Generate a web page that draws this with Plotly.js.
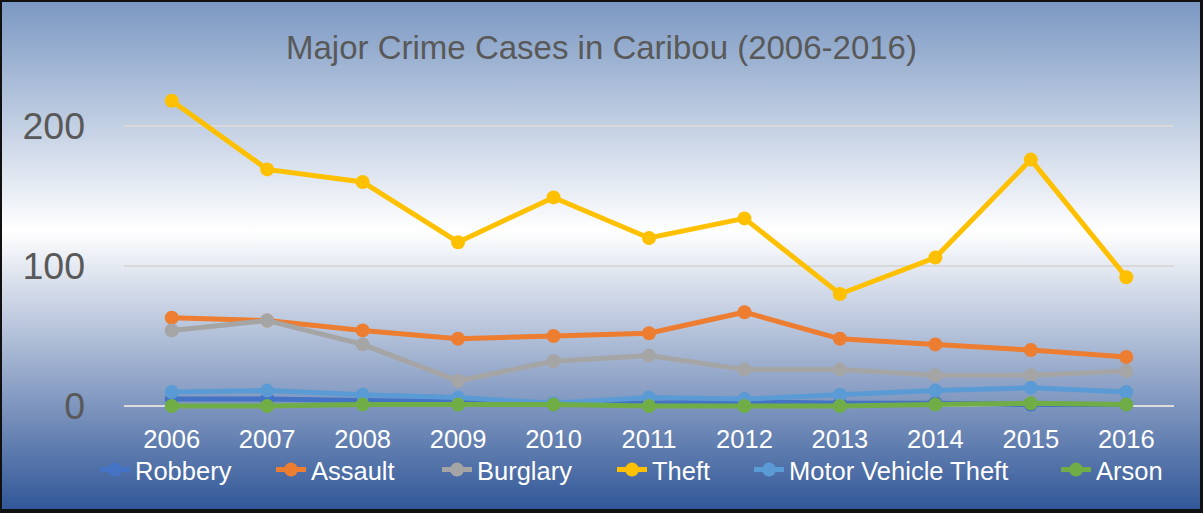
<!DOCTYPE html>
<html>
<head>
<meta charset="utf-8">
<script src="https://cdn.plot.ly/plotly-3.0.1.min.js"></script>
<style>
  html, body { margin: 0; padding: 0; background: #ffffff; }
  #wrap { position: relative; width: 1203px; height: 513px; overflow: hidden;
          background: linear-gradient(to bottom, #7a97c2 0%, #ffffff 45%, #2f5597 100%); }
  #chart { position: absolute; left: 0; top: 0; width: 1203px; height: 513px; }
  #frame { position: absolute; left: 0; top: 0; width: 1203px; height: 513px; box-sizing: border-box;
           border-style: solid; border-color: #111; border-width: 2px 3px 4px 2px; pointer-events: none; }
</style>
</head>
<body>
<div id="wrap"><div id="chart"></div><div id="frame"></div></div>
<script>
const years = ["2006","2007","2008","2009","2010","2011","2012","2013","2014","2015","2016"];
const robbery = [5, 5, 4, 3, 1, 2, 3, 2, 2, 1, 1];
const assault = [63, 61, 54, 48, 50, 52, 67, 48, 44, 40, 35];
const burglary = [54, 61, 44, 18, 32, 36, 26, 26, 22, 22, 25];
const theft = [218, 169, 160, 117, 149, 120, 134, 80, 106, 176, 92];
const motorVehicleTheft = [10, 11, 8, 6, 2, 6, 5, 8, 11, 13, 10];
const arson = [0, 0, 1, 1, 1, 0, 0, 0, 1, 2, 1];

const seriesNames = ["Robbery", "Assault", "Burglary", "Theft", "Motor Vehicle Theft", "Arson"];
const seriesValues = [robbery, assault, burglary, theft, motorVehicleTheft, arson];
const seriesColors = ["#4472C4", "#ED7D31", "#A5A5A5", "#FFC000", "#5B9BD5", "#70AD47"];
const yTicks = [0, 100, 200];

// legend text start positions (px) for each entry
const legendTextX = [137, 313, 479, 654, 791, 1098];
const plotL = 124, plotR = 29, W = 1203;
const plotW = W - plotL - plotR;
const pxPerUnit = 1.4015, zeroY = 406, yMin = -5, yMax = 250;
const marginT = Math.round(zeroY - yMax * pxPerUnit);
const marginB = Math.round(513 - (zeroY - yMin * pxPerUnit));
const plotH = 513 - marginT - marginB;

const traces = seriesNames.map((name, i) => ({
  type: "scatter",
  mode: "lines+markers",
  name: name,
  x: years,
  y: seriesValues[i],
  line: { color: seriesColors[i], width: 5 },
  marker: { color: seriesColors[i], size: 14 },
  cliponaxis: false,
  legend: i === 0 ? "legend" : "legend" + (i + 1)
}));

const layout = {
  width: 1203, height: 513,
  margin: { l: plotL, r: plotR, t: marginT, b: marginB },
  paper_bgcolor: "rgba(0,0,0,0)",
  plot_bgcolor: "rgba(0,0,0,0)",
  title: {
    text: "Major Crime Cases in Caribou (2006-2016)",
    font: { family: "Liberation Sans, Arial, sans-serif", size: 33, color: "#595959" },
    x: 0.5, xref: "container", xanchor: "center",
    y: 1 - 47 / 513, yref: "container", yanchor: "middle"
  },
  xaxis: {
    type: "category",
    range: [-0.5, 10.5],
    showgrid: false, zeroline: false, showline: false,
    ticks: "", ticklabelstandoff: 8,
    tickfont: { family: "Liberation Sans, Arial, sans-serif", size: 25.5, color: "#ffffff" },
    fixedrange: true
  },
  yaxis: {
    range: [yMin, yMax],
    tickvals: yTicks, ticktext: yTicks.map(String),
    showgrid: true, gridcolor: "#d9d9d9", gridwidth: 1.3,
    zeroline: true, zerolinecolor: "#dcdcdc", zerolinewidth: 1.6,
    showline: false, ticks: "",
    ticklabelstandoff: 38,
    tickfont: { family: "Liberation Sans, Arial, sans-serif", size: 37.5, color: "#595959" },
    fixedrange: true
  },
  showlegend: true,
  hovermode: false
};

seriesNames.forEach((name, i) => {
  const key = i === 0 ? "legend" : "legend" + (i + 1);
  layout[key] = {
    orientation: "h",
    x: (legendTextX[i] - 42 - plotL) / plotW,
    xanchor: "left",
    y: ((513 - marginB) - 470) / plotH,
    yanchor: "middle",
    bgcolor: "rgba(0,0,0,0)",
    borderwidth: 0,
    font: { family: "Liberation Sans, Arial, sans-serif", size: 25.5, color: "#ffffff" }
  };
});

Plotly.newPlot("chart", traces, layout, { displayModeBar: false, staticPlot: true });
</script>
</body>
</html>
